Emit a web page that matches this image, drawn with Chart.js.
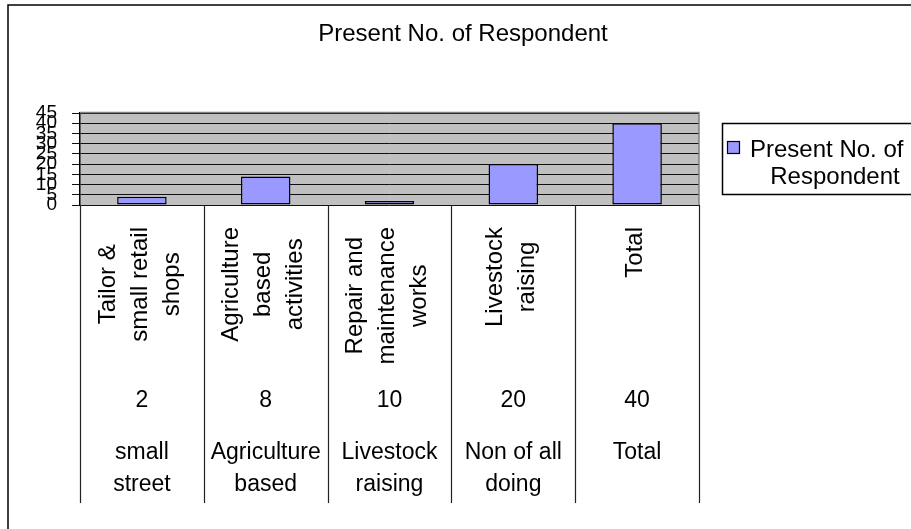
<!DOCTYPE html>
<html>
<head>
<meta charset="utf-8">
<script src="https://cdn.jsdelivr.net/npm/chart.js@4"></script>
<style>
  html, body { margin: 0; padding: 0; background: #fff; }
  #chart { display: block; }
</style>
</head>
<body>
<canvas id="chart" width="911" height="529"></canvas>
<script>
// Chart data
const activityLabels = [
    ['Tailor &', 'small retail', 'shops'],
    ['Agriculture', 'based', 'activities'],
    ['Repair and', 'maintenance', 'works'],
    ['Livestock', 'raising'],
    ['Total']
];
const countLabels = ['2', '8', '10', '20', '40'];
const groupLabels = [
    ['small', 'street'],
    ['Agriculture', 'based'],
    ['Livestock', 'raising'],
    ['Non of all', 'doing'],
    ['Total']
];
const respondents = [4, 14, 2, 20, 40];
const seriesName = 'Present No. of Respondent';
const legendLines = ['Present No. of', 'Respondent'];
const yMin = 0;
const yMax = 45;
const yStep = 5;

const FONT = '"Liberation Sans", Arial, sans-serif';

// Excel-like table under the plot, legend, title and frame
const excelLook = {
    id: 'excelLook',
    beforeDraw(chart) {
        const ctx = chart.ctx;
        const a = chart.chartArea;
        ctx.save();
        ctx.fillStyle = '#ffffff';
        ctx.fillRect(0, 0, chart.width, chart.height);
        ctx.fillStyle = '#c0c0c0';
        ctx.fillRect(a.left, a.top, a.right - a.left, a.bottom - a.top);
        ctx.restore();
    },
    afterDraw(chart) {
        const ctx = chart.ctx;
        const a = chart.chartArea;
        const x = chart.scales.x;
        const n = chart.data.labels.length;
        const step = (a.right - a.left) / n;

        ctx.save();

        // plot area border (gray top/right)
        ctx.strokeStyle = '#808080';
        ctx.lineWidth = 1.5;
        ctx.beginPath();
        ctx.moveTo(a.left, a.top - 0.5);
        ctx.lineTo(a.right, a.top - 0.5);
        ctx.lineTo(a.right, a.bottom);
        ctx.stroke();

        // category separators
        ctx.strokeStyle = '#222';
        ctx.lineWidth = 1.2;
        for (let i = 0; i <= n; i++) {
            const px = Math.round(a.left + i * step) + 0.5;
            ctx.beginPath();
            ctx.moveTo(px, a.bottom);
            ctx.lineTo(px, 503);
            ctx.stroke();
        }

        ctx.fillStyle = '#000';

        // rotated activity labels
        ctx.font = '24px ' + FONT;
        ctx.textAlign = 'center';
        ctx.textBaseline = 'middle';
        activityLabels.forEach(function(lines, i) {
            const cx = x.getPixelForValue(i);
            const maxW = Math.max.apply(null, lines.map(function(l) { return ctx.measureText(l).width; }));
            const cy = 227 + maxW / 2;
            lines.forEach(function(line, j) {
                const lx = cx - 2 + (j - (lines.length - 1) / 2) * 32;
                ctx.save();
                ctx.translate(lx, cy);
                ctx.rotate(-Math.PI / 2);
                ctx.fillText(line, 0, 0);
                ctx.restore();
            });
        });

        // count row
        ctx.font = '23px ' + FONT;
        countLabels.forEach(function(label, i) {
            ctx.fillText(label, x.getPixelForValue(i), 401);
        });

        // group row
        groupLabels.forEach(function(lines, i) {
            lines.forEach(function(line, j) {
                ctx.fillText(line, x.getPixelForValue(i), 453 + j * 32);
            });
        });

        // title
        ctx.font = '24px ' + FONT;
        ctx.textBaseline = 'alphabetic';
        ctx.fillText(seriesName, 463, 41);

        // legend
        ctx.strokeStyle = '#000';
        ctx.lineWidth = 1.5;
        ctx.strokeRect(722.5, 123.5, 300, 71);
        ctx.fillStyle = chart.data.datasets[0].backgroundColor;
        ctx.fillRect(727.5, 141.5, 12, 12);
        ctx.lineWidth = 1.2;
        ctx.strokeRect(727.5, 141.5, 12, 12);
        ctx.fillStyle = '#000';
        ctx.textAlign = 'left';
        ctx.fillText(legendLines[0], 750, 157);
        ctx.textAlign = 'center';
        ctx.fillText(legendLines[1], 835, 184);

        // outer chart frame
        ctx.strokeStyle = '#000';
        ctx.lineWidth = 1.5;
        ctx.strokeRect(8, 5, 1000, 1000);

        ctx.restore();
    }
};

const ctx = document.getElementById('chart').getContext('2d');
new Chart(ctx, {
    type: 'bar',
    data: {
        labels: activityLabels,
        datasets: [{
            label: seriesName,
            data: respondents,
            backgroundColor: '#9999ff',
            borderColor: '#000000',
            borderWidth: 1.5,
            borderSkipped: false,
            barPercentage: 0.4,
            categoryPercentage: 1.0
        }]
    },
    options: {
        responsive: false,
        animation: false,
        devicePixelRatio: 1,
        layout: {
            padding: { left: 0, top: 113, right: 212, bottom: 324 }
        },
        plugins: {
            legend: { display: false },
            title: { display: false },
            tooltip: { enabled: false }
        },
        scales: {
            x: {
                display: false
            },
            y: {
                min: yMin,
                max: yMax,
                afterFit: function(scale) { scale.width = 80; },
                ticks: {
                    stepSize: yStep,
                    autoSkip: false,
                    color: '#000',
                    padding: 15,
                    font: { family: FONT, size: 19 }
                },
                grid: {
                    color: '#111',
                    lineWidth: 1,
                    tickLength: 8,
                    drawTicks: true
                },
                border: {
                    display: true,
                    color: '#000',
                    width: 1.5
                }
            }
        }
    },
    plugins: [excelLook]
});
</script>
</body>
</html>
